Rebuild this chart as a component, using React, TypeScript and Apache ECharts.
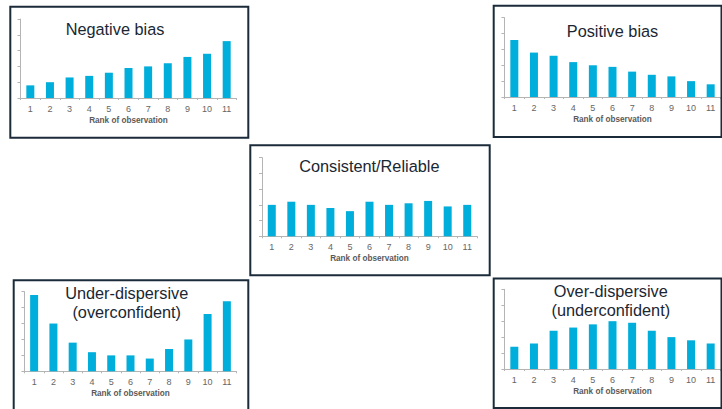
import React, { useEffect, useRef } from "react";
import * as echarts from "echarts";

// Rank histogram panels: counts per rank of observation (1..11)
const ranks = ["1", "2", "3", "4", "5", "6", "7", "8", "9", "10", "11"];
const negativeBias = [0.8, 1.0, 1.3, 1.4, 1.6, 1.9, 2.0, 2.2, 2.6, 2.8, 3.6];
const positiveBias = [3.6, 2.8, 2.6, 2.2, 2.0, 1.9, 1.6, 1.4, 1.3, 1.0, 0.8];
const consistent = [2.0, 2.2, 2.0, 1.8, 1.6, 2.2, 2.0, 2.1, 2.25, 1.9, 2.0];
const underDispersive = [4.8, 3.0, 1.8, 1.2, 1.0, 1.0, 0.8, 1.4, 2.0, 3.6, 4.4];
const overDispersive = [1.4, 1.6, 2.4, 2.6, 2.8, 3.0, 2.9, 2.4, 2.0, 1.8, 1.6];

const titleNegative = ["Negative bias"];
const titlePositive = ["Positive bias"];
const titleConsistent = ["Consistent/Reliable"];
const titleUnder = ["Under-dispersive", "(overconfident)"];
const titleOver = ["Over-dispersive", "(underconfident)"];
const axisName = "Rank of observation";

const BAR = "#00aedb";
const FRAME = "#1b2b3a";
const AXIS = "#b4b4b4";

type Panel = {
  values: number[];
  title: string[];
  grid: { left: number; top: number; width: number; height: number };
  frame: { x: number; y: number; width: number; height: number };
  titlePos: { x: number; y: number; gap: number };
};

const panels: Panel[] = [
  {
    values: negativeBias,
    title: titleNegative,
    grid: { left: 20.5, top: 19, width: 216, height: 79 },
    frame: { x: 10.3, y: 6.7, width: 238, height: 131 },
    titlePos: { x: 115, y: 28.5, gap: 0 },
  },
  {
    values: positiveBias,
    title: titlePositive,
    grid: { left: 504.5, top: 17.7, width: 216, height: 79.3 },
    frame: { x: 493.7, y: 5.8, width: 227.8, height: 131.2 },
    titlePos: { x: 612.5, y: 31.3, gap: 0 },
  },
  {
    values: consistent,
    title: titleConsistent,
    grid: { left: 262, top: 157.7, width: 215, height: 78.6 },
    frame: { x: 250.3, y: 145.2, width: 239.4, height: 130 },
    titlePos: { x: 369.3, y: 165.8, gap: 0 },
  },
  {
    values: underDispersive,
    title: titleUnder,
    grid: { left: 24.5, top: 291.7, width: 212, height: 79.6 },
    frame: { x: 13.7, y: 280.2, width: 234.6, height: 140 },
    titlePos: { x: 126.7, y: 292.5, gap: 19.3 },
  },
  {
    values: overDispersive,
    title: titleOver,
    grid: { left: 504.5, top: 289.3, width: 216, height: 79.7 },
    frame: { x: 493.7, y: 278.5, width: 227.8, height: 129.5 },
    titlePos: { x: 610.8, y: 291, gap: 19.3 },
  },
];

export default function App() {
  const ref = useRef<HTMLDivElement>(null);

  useEffect(() => {
    if (!ref.current) return;
    const chart = echarts.init(ref.current, null, { renderer: "svg" });

    const graphics: any[] = [];
    panels.forEach((p) => {
      graphics.push({
        type: "rect",
        shape: { x: p.frame.x, y: p.frame.y, width: p.frame.width, height: p.frame.height },
        style: { fill: "none", stroke: FRAME, lineWidth: 2 },
        silent: true,
        z: 10,
      });
      p.title.forEach((line, i) => {
        graphics.push({
          type: "text",
          x: p.titlePos.x,
          y: p.titlePos.y + i * p.titlePos.gap,
          style: {
            text: line,
            fill: "#1a2733",
            fontSize: 16.3,
            fontFamily: "Liberation Sans, Arial, sans-serif",
            textAlign: "center",
            textVerticalAlign: "middle",
          },
          silent: true,
          z: 20,
        });
      });
    });

    chart.setOption({
      animation: false,
      backgroundColor: "#ffffff",
      grid: panels.map((p) => ({
        left: p.grid.left,
        top: p.grid.top,
        width: p.grid.width,
        height: p.grid.height,
        containLabel: false,
      })),
      xAxis: panels.map((_, i) => ({
        type: "category",
        gridIndex: i,
        data: ranks,
        boundaryGap: true,
        axisLine: { show: true, lineStyle: { color: AXIS, width: 1 } },
        axisTick: { show: true, length: 2, alignWithLabel: false, lineStyle: { color: AXIS } },
        axisLabel: {
          show: true,
          interval: 0,
          margin: 6,
          fontSize: 9,
          color: "#666666",
          fontFamily: "Liberation Sans, Arial, sans-serif",
        },
        name: axisName,
        nameLocation: "middle",
        nameGap: 18,
        nameTextStyle: {
          fontSize: 8.2,
          fontWeight: "bold",
          color: "#5a5a5a",
          fontFamily: "Liberation Sans, Arial, sans-serif",
        },
        splitLine: { show: false },
      })),
      yAxis: panels.map((_, i) => ({
        type: "value",
        gridIndex: i,
        min: 0,
        max: 5,
        interval: 1,
        axisLine: { show: true, lineStyle: { color: AXIS, width: 1 } },
        axisTick: { show: true, length: 3, lineStyle: { color: AXIS } },
        axisLabel: { show: false },
        splitLine: { show: false },
      })),
      series: panels.map((p, i) => ({
        type: "bar",
        xAxisIndex: i,
        yAxisIndex: i,
        data: p.values,
        barWidth: 8,
        itemStyle: { color: BAR },
        silent: true,
      })),
      graphic: graphics,
    });

    return () => chart.dispose();
  }, []);

  return (
    <div
      ref={ref}
      style={{ position: "absolute", left: 0, top: 0, width: 722, height: 409, background: "#ffffff" }}
    />
  );
}
